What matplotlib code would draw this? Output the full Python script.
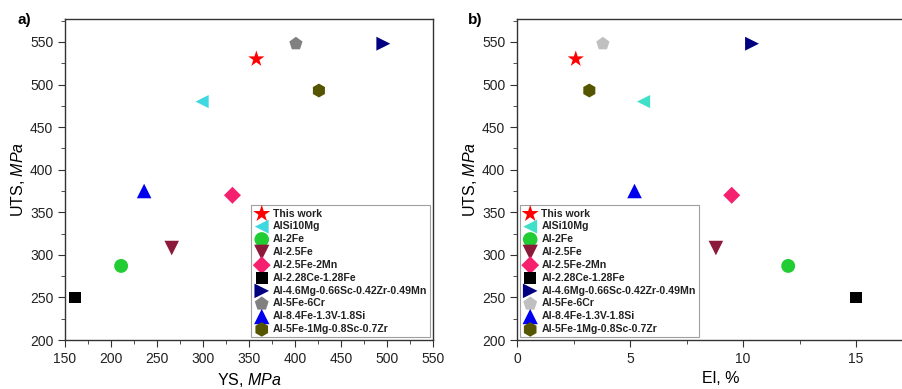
import matplotlib.pyplot as plt
from matplotlib.ticker import MultipleLocator

plt.rcParams['font.family'] = ['Liberation Sans', 'DejaVu Sans']
plt.rcParams['mathtext.fontset'] = 'custom'
plt.rcParams['mathtext.it'] = 'Liberation Sans:italic'
plt.rcParams['mathtext.rm'] = 'Liberation Sans'

alloys = ["This work", "AlSi10Mg", "Al-2Fe", "Al-2.5Fe", "Al-2.5Fe-2Mn",
          "Al-2.28Ce-1.28Fe", "Al-4.6Mg-0.66Sc-0.42Zr-0.49Mn", "Al-5Fe-6Cr",
          "Al-8.4Fe-1.3V-1.8Si", "Al-5Fe-1Mg-0.8Sc-0.7Zr"]
ys = [358, 299, 211, 266, 332, 161, 496, 401, 236, 426]
uts = [530, 480, 287, 308, 370, 250, 548, 548, 375, 493]
el = [2.6, 5.6, 12.0, 8.8, 9.5, 15.0, 10.4, 3.8, 5.2, 3.2]

markers = ['*', '<', 'o', 'v', 'D', 's', '>', 'p', '^', 'h']
sizes = [150, 90, 100, 110, 75, 70, 100, 100, 110, 100]
colors_a = ['#ff0000', '#40d8e0', '#22cc33', '#8b1a3a', '#f5206e', '#000000',
            '#000080', '#808080', '#0000ee', '#555500']
colors_b = ['#ff0000', '#40e0c8', '#22cc33', '#8b1a3a', '#f5206e', '#000000',
            '#000080', '#c0c0c0', '#0000ee', '#555500']

W, H = 903, 389
fig = plt.figure(figsize=(W / 100, H / 100), dpi=100)
ax_a = fig.add_axes([65 / W, 1 - 340 / H, (433 - 65) / W, (340 - 19) / H])
ax_b = fig.add_axes([517 / W, 1 - 340 / H, (18 * 22.6) / W, (340 - 19) / H])


def style(ax):
    ax.set_ylim(200, 577)
    ax.yaxis.set_major_locator(MultipleLocator(50))
    ax.yaxis.set_minor_locator(MultipleLocator(25))
    ax.tick_params(which='both', direction='out', top=False, right=False,
                   labelsize=10, color='#333333', labelcolor='#222222')
    ax.tick_params(which='major', length=5)
    ax.tick_params(which='minor', length=3)
    for s in ax.spines.values():
        s.set_color('#333333')
        s.set_linewidth(1.0)
    ax.set_ylabel('UTS, $\\mathit{MPa}$', fontsize=11.5, labelpad=2)


def draw(ax, xs, colors, loc):
    for i, name in enumerate(alloys):
        ax.scatter(xs[i], uts[i], marker=markers[i], s=sizes[i], c=colors[i],
                   edgecolors='none', label=name, zorder=3)
    leg = ax.legend(loc=loc, fontsize=7.6, frameon=True, fancybox=False,
                    borderaxespad=0.25, handletextpad=0.35, labelspacing=0.27,
                    borderpad=0.3, handlelength=1.4, markerscale=1.05)
    leg.get_frame().set_edgecolor('#888888')
    leg.get_frame().set_linewidth(0.8)
    for t in leg.get_texts():
        t.set_fontweight('bold')
        t.set_color('#222222')


draw(ax_a, ys, colors_a, 'lower right')
style(ax_a)
ax_a.set_xlim(150, 550)
ax_a.xaxis.set_major_locator(MultipleLocator(50))
ax_a.xaxis.set_minor_locator(MultipleLocator(25))
ax_a.set_xlabel('YS, $\\mathit{MPa}$', fontsize=11.5, labelpad=4)

draw(ax_b, el, colors_b, 'lower left')
style(ax_b)
ax_b.set_xlim(0, 18)
ax_b.xaxis.set_major_locator(MultipleLocator(5))
ax_b.xaxis.set_minor_locator(MultipleLocator(2.5))
ax_b.set_xlabel('El, %', fontsize=11.5, labelpad=4)

fig.text(18 / W, 1 - 20 / H, 'a)', fontsize=11, fontweight='bold', va='center')
fig.text(468 / W, 1 - 20 / H, 'b)', fontsize=11, fontweight='bold', va='center')

fig.savefig('out.png', dpi=100)
